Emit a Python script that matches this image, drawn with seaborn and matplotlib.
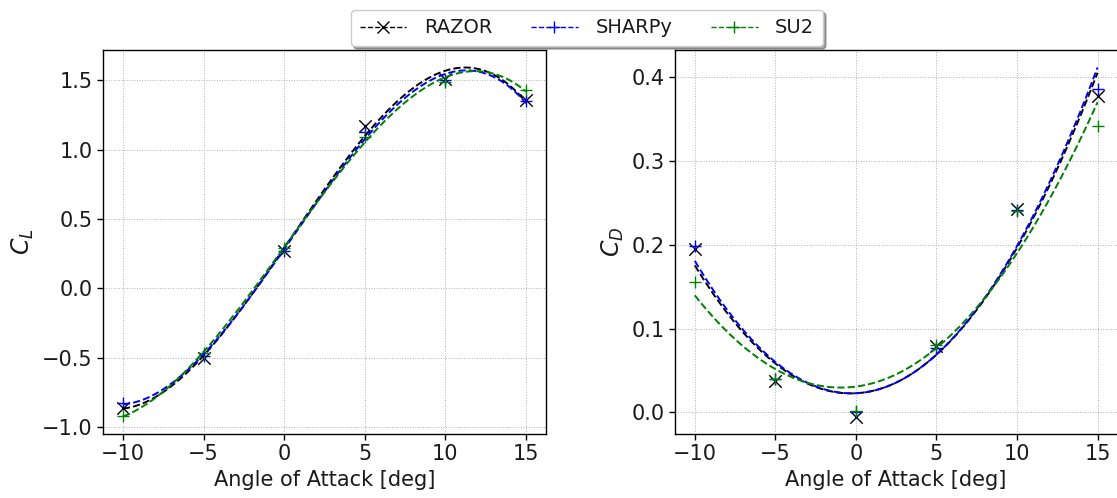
import numpy as np
import pandas as pd
import matplotlib
matplotlib.use("Agg")
import matplotlib.pyplot as plt
from matplotlib.lines import Line2D
import seaborn as sns

# ---- data ----
alpha = [-10, -5, 0, 5, 10, 15]

cl_razor = [-0.86, -0.50, 0.27, 1.17, 1.51, 1.36]
cl_sharpy = [-0.83, -0.49, 0.27, 1.13, 1.50, 1.35]
cl_su2 = [-0.92, -0.47, 0.29, 1.09, 1.49, 1.43]

cd_razor = [0.195, 0.038, -0.005, 0.079, 0.243, 0.377]
cd_sharpy = [0.199, 0.040, 0.000, 0.077, 0.241, 0.386]
cd_su2 = [0.155, 0.040, 0.002, 0.080, 0.240, 0.342]

series = ["RAZOR", "SHARPy", "SU2"]
colors = {"RAZOR": "black", "SHARPy": "blue", "SU2": "green"}
markers = {"RAZOR": "x", "SHARPy": "+", "SU2": "+"}

cl = {"RAZOR": cl_razor, "SHARPy": cl_sharpy, "SU2": cl_su2}
cd = {"RAZOR": cd_razor, "SHARPy": cd_sharpy, "SU2": cd_su2}

sns.set_theme(style="white")
plt.rcParams["font.family"] = ["DejaVu Sans"]
plt.rcParams["mathtext.fontset"] = "dejavusans"
plt.rcParams["axes.edgecolor"] = "black"
plt.rcParams["axes.linewidth"] = 1.0
plt.rcParams["xtick.bottom"] = True
plt.rcParams["ytick.left"] = True
plt.rcParams["xtick.color"] = "black"
plt.rcParams["ytick.color"] = "black"
plt.rcParams["text.color"] = "#1a1a1a"
plt.rcParams["axes.labelcolor"] = "#1a1a1a"

fig = plt.figure(figsize=(11.17, 4.98), dpi=100)
ax1 = fig.add_axes([0.092, 0.1285, 0.397, 0.771])
ax2 = fig.add_axes([0.604, 0.1285, 0.3966, 0.771])

def draw(ax, data, order, ylabel):
    for s in series:
        df = pd.DataFrame({"alpha": alpha, "val": data[s]})
        sns.regplot(data=df, x="alpha", y="val", ax=ax, order=order, ci=None,
                    marker=markers[s], color=colors[s], truncate=True,
                    scatter_kws=dict(s=80, linewidths=1.0, alpha=1.0),
                    line_kws=dict(ls="--", lw=1.4))
    ax.set_xlabel("Angle of Attack [deg]", fontsize=15)
    ax.set_ylabel(ylabel, fontsize=17)
    ax.tick_params(labelsize=15, length=4, width=1, direction="out",
                   labelcolor="#1a1a1a")
    ax.set_xticks([-10, -5, 0, 5, 10, 15])
    ax.grid(True, ls=":", lw=0.7, color="#b0b0b0")
    ax.set_axisbelow(True)
    ax.margins(0.05)

draw(ax1, cl, 3, "$C_L$")
draw(ax2, cd, 2, "$C_D$")
ax1.set_yticks([-1.0, -0.5, 0.0, 0.5, 1.0, 1.5])
ax2.set_yticks([0.0, 0.1, 0.2, 0.3, 0.4])

handles = [Line2D([], [], color=colors[s], ls="--", lw=1.0, marker=markers[s],
                  markersize=8, label=s) for s in series]
fig.legend(handles=handles, loc="upper center", bbox_to_anchor=(0.5255, 1.0),
           ncol=3, fontsize=14, frameon=True, fancybox=True, shadow=True,
           framealpha=1, edgecolor="#cccccc", handlelength=2.4,
           handletextpad=0.9, columnspacing=2.0, borderpad=0.45)

fig.savefig("out.png", dpi=100)
